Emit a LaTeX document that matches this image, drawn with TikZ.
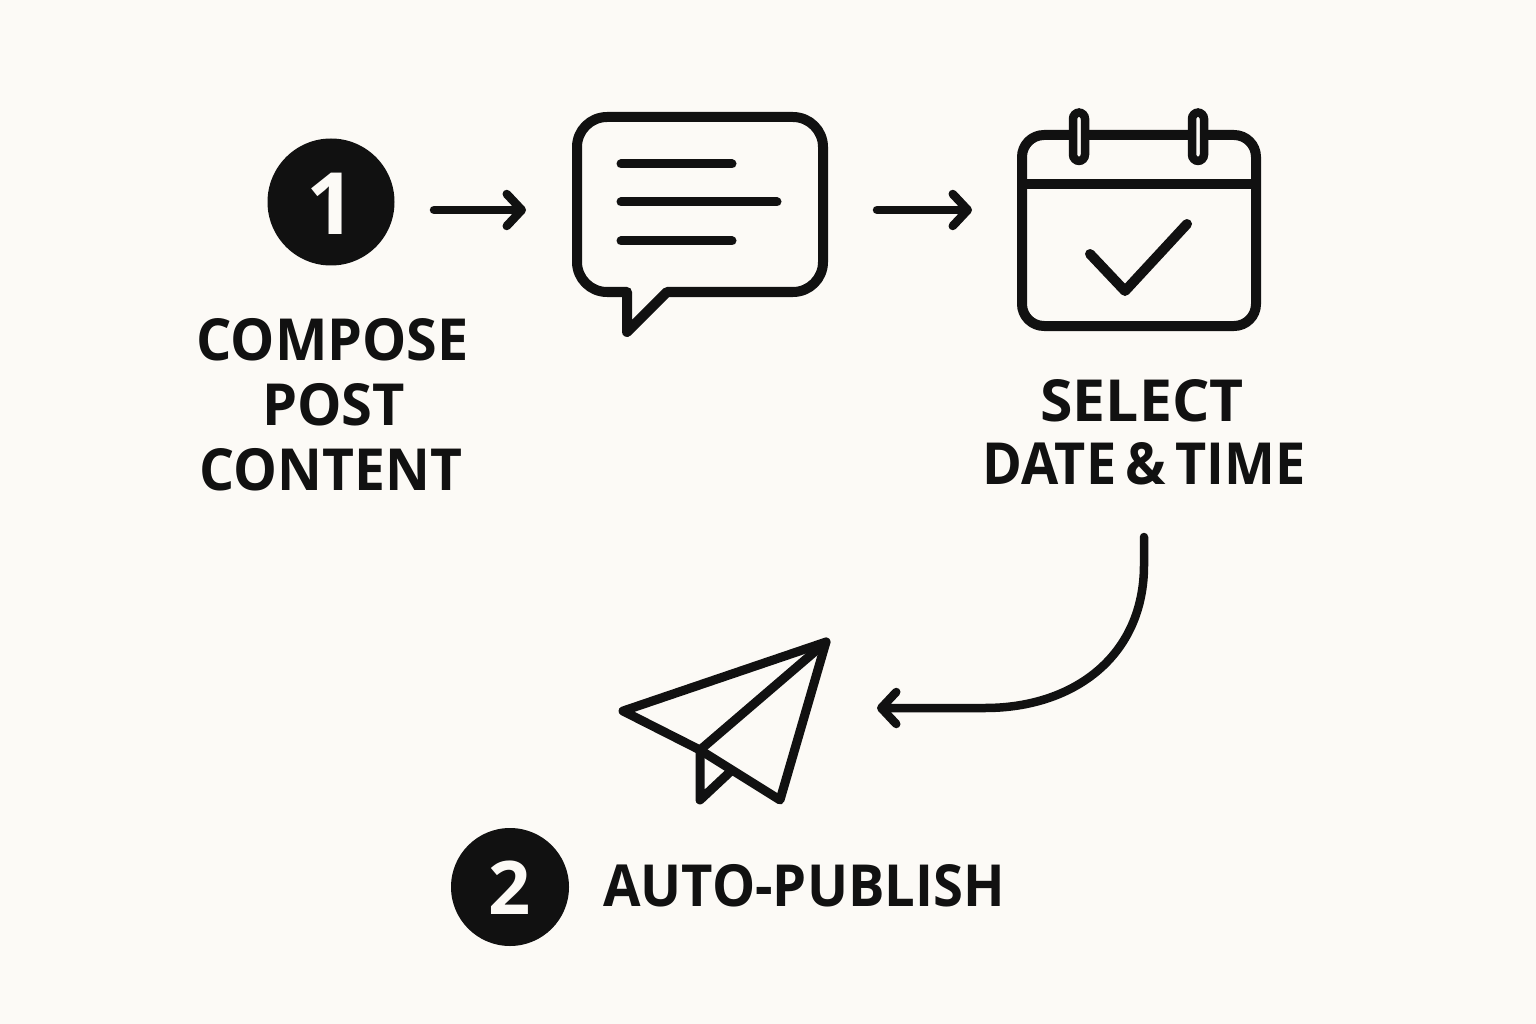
\documentclass[tikz,border=0pt]{standalone}
\usepackage{graphicx}
\usepackage{fontspec}
\setmainfont{Open Sans}
\usetikzlibrary{arrows.meta}
\definecolor{paper}{HTML}{FCFAF6}
\definecolor{ink}{HTML}{111111}
\tikzset{
  icon/.style={draw=ink,line width=10pt,line join=round,line cap=round},
  thin icon/.style={draw=ink,line width=9pt,line join=round,line cap=round},
  conn/.style={draw=ink,line width=8.5pt,line cap=round,line join=round,
    -{Straight Barb[length=15pt,width=32pt,round]}},
  badge/.style={circle,fill=ink,text=paper,inner sep=0pt,font=\bfseries},
  lbl/.style={text=ink,inner sep=0pt,anchor=base,font=\bfseries\fontsize{58}{58}\selectfont},
}
\begin{document}
\begin{tikzpicture}[x=1pt,y=-1pt]
\useasboundingbox[fill=paper] (0,0) rectangle (1536,1024);

% step 1
\node[badge,minimum size=127pt] (one) at (331,202) {};
\node[text=paper,inner sep=0pt,anchor=base,font=\bfseries\fontsize{86}{86}\selectfont] (onedigit) at (331,235) {1};
\node[lbl] (compose) at (332.5,360) {\scalebox{.96}[1]{COMPOSE}};
\node[lbl] (post) at (333.5,425) {\scalebox{.965}[1]{POST}};
\node[lbl] (content) at (331,490) {\scalebox{.952}[1]{CONTENT}};

% speech bubble
\path[icon] (607,117) -- (793,117) arc[start angle=-90,end angle=0,radius=30]
  -- (823,262) arc[start angle=0,end angle=90,radius=30]
  -- (667,292) -- (627,332) -- (627,292) -- (607,292)
  arc[start angle=90,end angle=180,radius=30] -- (577,147)
  arc[start angle=180,end angle=270,radius=30] -- cycle;
\draw[thin icon] (621,164) -- (732,164);
\draw[thin icon] (621,202) -- (777,202);
\draw[thin icon] (621,241) -- (732,241);

% calendar
\path[icon] (1044,135) -- (1234,135) arc[start angle=-90,end angle=0,radius=22]
  -- (1256,304) arc[start angle=0,end angle=90,radius=22]
  -- (1044,326) arc[start angle=90,end angle=180,radius=22]
  -- (1022,157) arc[start angle=180,end angle=270,radius=22] -- cycle;
\draw[draw=ink,line width=10pt] (1022,184) -- (1256,184);
\draw[draw=ink,line width=8.5pt,fill=paper,rounded corners=6.5pt] (1073,112.5) rectangle (1085,161);
\draw[draw=ink,line width=8.5pt,fill=paper,rounded corners=6.5pt] (1192,112.5) rectangle (1204,161);
\draw[icon] (1090,254) -- (1125,291) -- (1187,224);
\node[lbl] (select) at (1142,421) {\scalebox{1.015}[1]{SELECT}};
\node[lbl] (datetime) at (1144,484) {\scalebox{.93}[1]{DATE\hspace{10pt}\&\hspace{10pt}TIME}};

% paper plane
\path[thin icon] (623,711) -- (826,642) -- (780,800) -- (700,750) -- cycle;
\draw[thin icon] (826,642) -- (700,750) -- (700,800) -- (731,771);

% step 2
\node[badge,minimum size=118pt] (two) at (510,887) {};
\node[text=paper,inner sep=0pt,anchor=base,font=\bfseries\fontsize{74}{74}\selectfont] (twodigit) at (510,914) {2};
\node[lbl,anchor=base west] (publish) at (603,906) {\scalebox{.937}[1]{AUTO-PUBLISH}};

% connectors
\coordinate (a1s) at (434,210); \coordinate (a1e) at (526,210);
\coordinate (a2s) at (877,210); \coordinate (a2e) at (972,210);
\coordinate (a3s) at (1144,537); \coordinate (a3e) at (877,708);
\draw[conn] (a1s) -- (a1e);
\draw[conn] (a2s) -- (a2e);
\draw[conn] (a3s) -- (1144,565) .. controls (1144,655) and (1075,708) .. (985,708) -- (a3e);
\end{tikzpicture}
\end{document}
